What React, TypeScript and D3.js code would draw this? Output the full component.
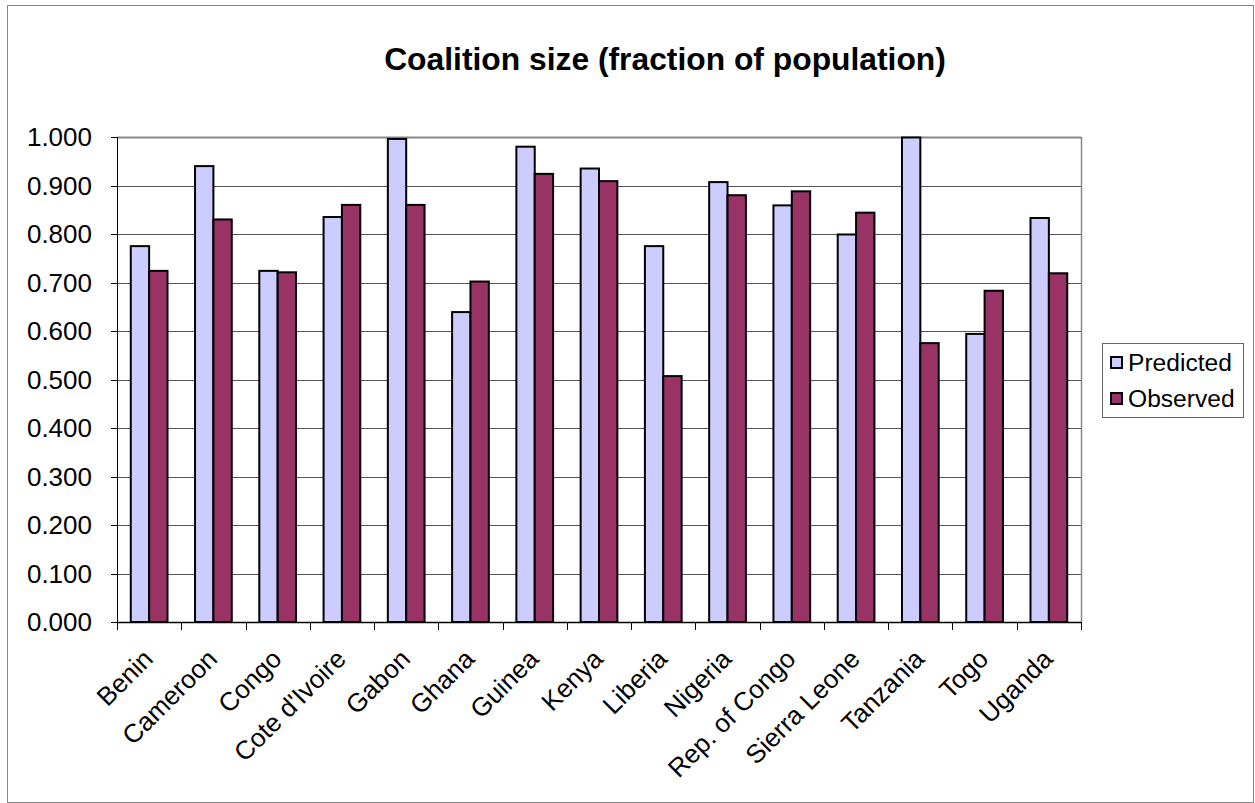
import React from "react";
import * as d3 from "d3";

const categories = ["Benin","Cameroon","Congo","Cote d'Ivoire","Gabon","Ghana","Guinea","Kenya","Liberia","Nigeria","Rep. of Congo","Sierra Leone","Tanzania","Togo","Uganda"];
const predicted = [0.775,0.940,0.724,0.835,0.996,0.639,0.980,0.935,0.775,0.907,0.859,0.799,0.999,0.594,0.833];
const observed = [0.724,0.830,0.721,0.860,0.860,0.702,0.924,0.909,0.507,0.880,0.888,0.844,0.575,0.683,0.719];
const yTicks = [0,0.1,0.2,0.3,0.4,0.5,0.6,0.7,0.8,0.9,1.0];
const seriesNames = ["Predicted","Observed"];
const seriesColors = ["#CCCCFF","#993366"];

export default function App() {
  const W = 1255, H = 803;
  const left = 117, right = 1081, top = 137, bottom = 622;
  const x = d3.scaleBand<string>().domain(categories).range([left, right]).paddingInner(0).paddingOuter(0);
  const y = d3.scaleLinear().domain([0, 1]).range([bottom, top]);
  const bw = x.bandwidth() / 3.5;
  const font = "'Liberation Sans', Arial, sans-serif";
  const series = [predicted, observed];
  return (
    <svg width={W} height={H} style={{ position: "absolute", left: 0, top: 0, fontFamily: font }}>
      <rect x={0} y={0} width={W} height={H} fill="#fff" />
      <rect x={7.5} y={5.5} width={W - 9} height={H - 6} fill="none" stroke="#888" strokeWidth={1} />
      <text x={665} y={70} textAnchor="middle" fontSize={31.8} fontWeight="bold" fill="#000">Coalition size (fraction of population)</text>
      {/* gridlines */}
      {yTicks.map((t) => (
        <line key={"g" + t} x1={left} x2={right} y1={Math.round(y(t)) + 0.5} y2={Math.round(y(t)) + 0.5} stroke={t === 1 ? "#888" : "#555"} strokeWidth={t === 1 ? 2 : 1} />
      ))}
      <line x1={right + 0.5} x2={right + 0.5} y1={top} y2={bottom} stroke="#888" strokeWidth={1.5} />
      {/* bars */}
      {series.map((vals, si) =>
        vals.map((v, i) => {
          const x0 = (x(categories[i]) as number) + bw * 0.75 + si * bw;
          return (
            <rect key={si + "-" + i} x={x0} y={y(v)} width={bw} height={y(0) - y(v)} fill={seriesColors[si]} stroke="#000" strokeWidth={2} />
          );
        })
      )}
      {/* y axis */}
      <line x1={left + 0.5} x2={left + 0.5} y1={top} y2={bottom} stroke="#000" strokeWidth={1} />
      {yTicks.map((t) => (
        <g key={"t" + t}>
          <line x1={left - 6} x2={left} y1={Math.round(y(t)) + 0.5} y2={Math.round(y(t)) + 0.5} stroke="#000" strokeWidth={1} />
          <text x={92} y={y(t)} dy="0.35em" textAnchor="end" fontSize={26} fill="#000">{t.toFixed(3)}</text>
        </g>
      ))}
      {/* x axis */}
      <line x1={left} x2={right} y1={bottom + 0.5} y2={bottom + 0.5} stroke="#000" strokeWidth={1.5} />
      {categories.map((c, i) => (
        <line key={"xt" + i} x1={Math.round(x(c) as number) + 0.5} x2={Math.round(x(c) as number) + 0.5} y1={bottom} y2={bottom + 8} stroke="#000" strokeWidth={1} />
      ))}
      <line x1={right + 0.5} x2={right + 0.5} y1={bottom} y2={bottom + 8} stroke="#000" strokeWidth={1} />
      {categories.map((c, i) => {
        const cx = (x(c) as number) + x.bandwidth() / 2;
        return (
          <text key={"xl" + i} transform={`translate(${cx - 1},${654}) rotate(-45)`} textAnchor="end" fontSize={26} fill="#000" dy="0.35em">{c}</text>
        );
      })}
      {/* legend */}
      <rect x={1102.5} y={343.5} width={141} height={74} fill="#fff" stroke="#666" strokeWidth={1} />
      {seriesNames.map((n, i) => (
        <g key={"l" + i}>
          <rect x={1111} y={357 + i * 36} width={11} height={11} fill={seriesColors[i]} stroke="#000" strokeWidth={2} />
          <text x={1128} y={362.5 + i * 36} dy="0.35em" fontSize={24.6} fill="#000">{n}</text>
        </g>
      ))}
    </svg>
  );
}
